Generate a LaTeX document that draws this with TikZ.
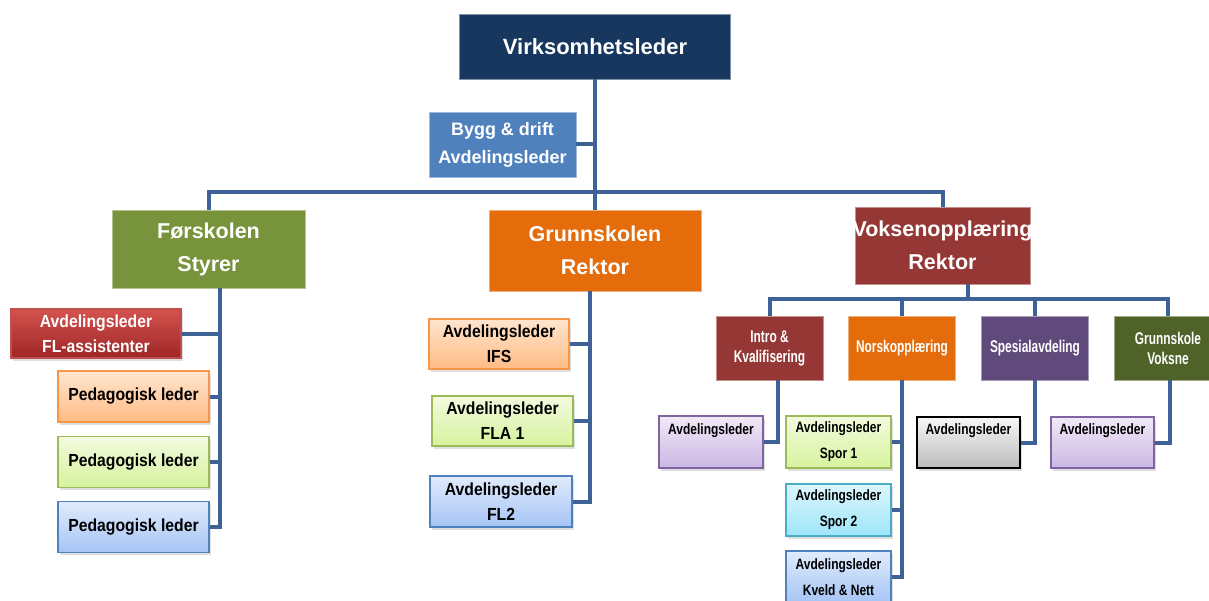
\documentclass[tikz,border=0pt]{standalone}
\usepackage{fontspec}
\setmainfont{Liberation Sans}
\newfontfamily\midfont{Liberation Sans}[FakeStretch=0.9]
\newfontfamily\subfont{Liberation Sans}[FakeStretch=0.8]
\newfontfamily\deptfont{Liberation Sans}[FakeStretch=0.7]
\usepackage{tikz}
\usetikzlibrary{shadows}
\definecolor{navy}{RGB}{23, 55, 94}
\definecolor{byggblue}{RGB}{79, 129, 189}
\definecolor{fsgreen}{RGB}{119, 147, 60}
\definecolor{gsorange}{RGB}{228, 108, 10}
\definecolor{vored}{RGB}{149, 55, 53}
\definecolor{sppurple}{RGB}{96, 74, 123}
\definecolor{gvolive}{RGB}{79, 98, 40}
\definecolor{linkblue}{RGB}{62, 98, 150}
\definecolor{org1}{RGB}{255, 229, 207}
\definecolor{org2}{RGB}{255, 188, 132}
\definecolor{orgline}{RGB}{247, 150, 70}
\definecolor{grn1}{RGB}{243, 250, 222}
\definecolor{grn2}{RGB}{214, 243, 158}
\definecolor{grnline}{RGB}{155, 187, 89}
\definecolor{blu1}{RGB}{224, 235, 252}
\definecolor{blu2}{RGB}{165, 196, 245}
\definecolor{bluline}{RGB}{79, 129, 189}
\definecolor{red1}{RGB}{212, 82, 78}
\definecolor{red2}{RGB}{158, 38, 38}
\definecolor{redline}{RGB}{192, 80, 77}
\definecolor{pur1}{RGB}{241, 233, 247}
\definecolor{pur2}{RGB}{203, 183, 228}
\definecolor{purline}{RGB}{128, 100, 162}
\definecolor{cya1}{RGB}{220, 246, 253}
\definecolor{cya2}{RGB}{158, 229, 250}
\definecolor{cyaline}{RGB}{75, 172, 198}
\definecolor{gry1}{RGB}{246, 246, 246}
\definecolor{gry2}{RGB}{188, 188, 188}

\begin{document}
\begin{tikzpicture}[x=1pt, y=-1pt,
  link/.style={draw=linkblue, line width=4pt},
  flat/.style={rectangle, inner sep=0pt, fill=#1, draw=#1!55!white, line width=0.6pt, text=white, align=center},
  grad/.style n args={3}{rectangle, inner sep=0pt, top color=#1, bottom color=#2, draw=#3, line width=1.4pt,
    align=center, drop shadow={shadow xshift=1.5pt, shadow yshift=-2.5pt, opacity=0.25}},
  toptext/.style={font=\bfseries\fontsize{22}{26}\selectfont},
  bigtext/.style={font=\bfseries\fontsize{21.5}{33}\selectfont},
  byggtext/.style={font=\bfseries\fontsize{18}{28}\selectfont},
  midtext/.style={font=\midfont\bfseries\fontsize{17.5}{25}\selectfont},
  depttext/.style={font=\deptfont\bfseries\fontsize{17}{20}\selectfont},
  subtext/.style={font=\subfont\bfseries\fontsize{15}{26}\selectfont}]

  \useasboundingbox[fill=white] (0, 0) rectangle (1209, 601);

  % top level
  \node[flat=navy, toptext, minimum width=271, minimum height=65] (vl) at (595, 46.5) {Virksomhetsleder};
  \node[flat=byggblue, byggtext, minimum width=147, minimum height=65] (bd) at (502.5, 144.5) {Bygg \& drift\\Avdelingsleder};
  \node[flat=fsgreen, bigtext, minimum width=193, minimum height=78] (fs) at (208.5, 249) {Førskolen\\Styrer};
  \node[flat=gsorange, bigtext, minimum width=212, minimum height=81] (gs) at (595, 250.5) {Grunnskolen\\Rektor};
  \node[flat=vored, bigtext, minimum width=175, minimum height=77] (vo) at (942.5, 245.5) {\makebox[175pt]{Voksenopplæring}\\Rektor};

  \coordinate (bus) at (595, 192);
  \draw[link] (vl.south) -- (gs.north);
  \draw[link] (fs.north) |- (bus) -| (vo.north);
  \draw[link] (bd.east) -- (bd.east -| vl.south);

  % Førskolen
  \node[grad={red1}{red2}{redline}, text=white, midtext, minimum width=170, minimum height=49] (fl) at (96, 333.5) {Avdelingsleder\\FL-assistenter};
  \node[grad={org1}{org2}{orgline}, midtext, minimum width=151, minimum height=51] (p1) at (133.5, 396.5) {Pedagogisk leder};
  \node[grad={grn1}{grn2}{grnline}, midtext, minimum width=151, minimum height=51] (p2) at (133.5, 462) {Pedagogisk leder};
  \node[grad={blu1}{blu2}{bluline}, midtext, minimum width=151, minimum height=51] (p3) at (133.5, 527) {Pedagogisk leder};

  \coordinate (fsrail) at ([xshift=11.5pt]fs.south);
  \draw[link] (fsrail) |- (p3.east);
  \foreach \n in {fl, p1, p2}
    \draw[link] (\n.east) -- (\n.east -| fsrail);

  % Grunnskolen
  \node[grad={org1}{org2}{orgline}, midtext, minimum width=140, minimum height=50] (ifs) at (499, 344) {Avdelingsleder\\IFS};
  \node[grad={grn1}{grn2}{grnline}, midtext, minimum width=141, minimum height=50] (fla) at (502.5, 421) {Avdelingsleder\\FLA 1};
  \node[grad={blu1}{blu2}{bluline}, midtext, minimum width=142, minimum height=51] (fl2) at (501, 501.5) {Avdelingsleder\\FL2};

  \coordinate (gsrail) at ([xshift=-5pt]gs.south);
  \draw[link] (gsrail) |- (fl2.east);
  \foreach \n in {ifs, fla}
    \draw[link] (\n.east) -- (\n.east -| gsrail);

  % Voksenopplæring
  \node[flat=vored, depttext, minimum width=107, minimum height=64] (intro) at (769.5, 348) {Intro \&\\Kvalifisering};
  \node[flat=gsorange, depttext, minimum width=107, minimum height=64] (nk) at (902, 348) {Norskopplæring};
  \node[flat=sppurple, depttext, minimum width=107, minimum height=64] (sp) at (1035, 348) {Spesialavdeling};
  \node[flat=gvolive, depttext, minimum width=107, minimum height=64] (gv) at (1168, 348) {Grunnskole\\Voksne};

  \coordinate (vbus) at (968, 299);
  \draw[link] (vo.south -| vbus) -- (vbus);
  \draw[link] (intro.north) |- (vbus) -| (gv.north);
  \foreach \n in {nk, sp}
    \draw[link] (\n.north) -- (\n.north |- vbus);

  \node[grad={pur1}{pur2}{purline}, subtext, minimum width=104, minimum height=52] (ia) at (711, 442) {Avdelingsleder\\\mbox{}};
  \node[grad={grn1}{grn2}{grnline}, subtext, minimum width=105, minimum height=52] (s1) at (838.5, 442) {Avdelingsleder\\Spor 1};
  \node[grad={cya1}{cya2}{cyaline}, subtext, minimum width=105, minimum height=52] (s2) at (838.5, 510) {Avdelingsleder\\Spor 2};
  \node[grad={blu1}{blu2}{bluline}, subtext, minimum width=105, minimum height=52] (kn) at (838.5, 577) {Avdelingsleder\\Kveld \& Nett};
  \node[grad={gry1}{gry2}{black}, subtext, minimum width=103, minimum height=51] (sa) at (968.5, 442.5) {Avdelingsleder\\\mbox{}};
  \node[grad={pur1}{pur2}{purline}, subtext, minimum width=103, minimum height=51] (ga) at (1102.5, 442.5) {Avdelingsleder\\\mbox{}};

  \draw[link] ([xshift=8.5pt]intro.south) |- (ia.east);
  \draw[link] (nk.south) |- (kn.east);
  \foreach \n in {s1, s2}
    \draw[link] (\n.east) -- (\n.east -| nk.south);
  \draw[link] (sp.south) |- (sa.east);
  \draw[link] ([xshift=1.5pt]gv.south) |- (ga.east);

\end{tikzpicture}
\end{document}
